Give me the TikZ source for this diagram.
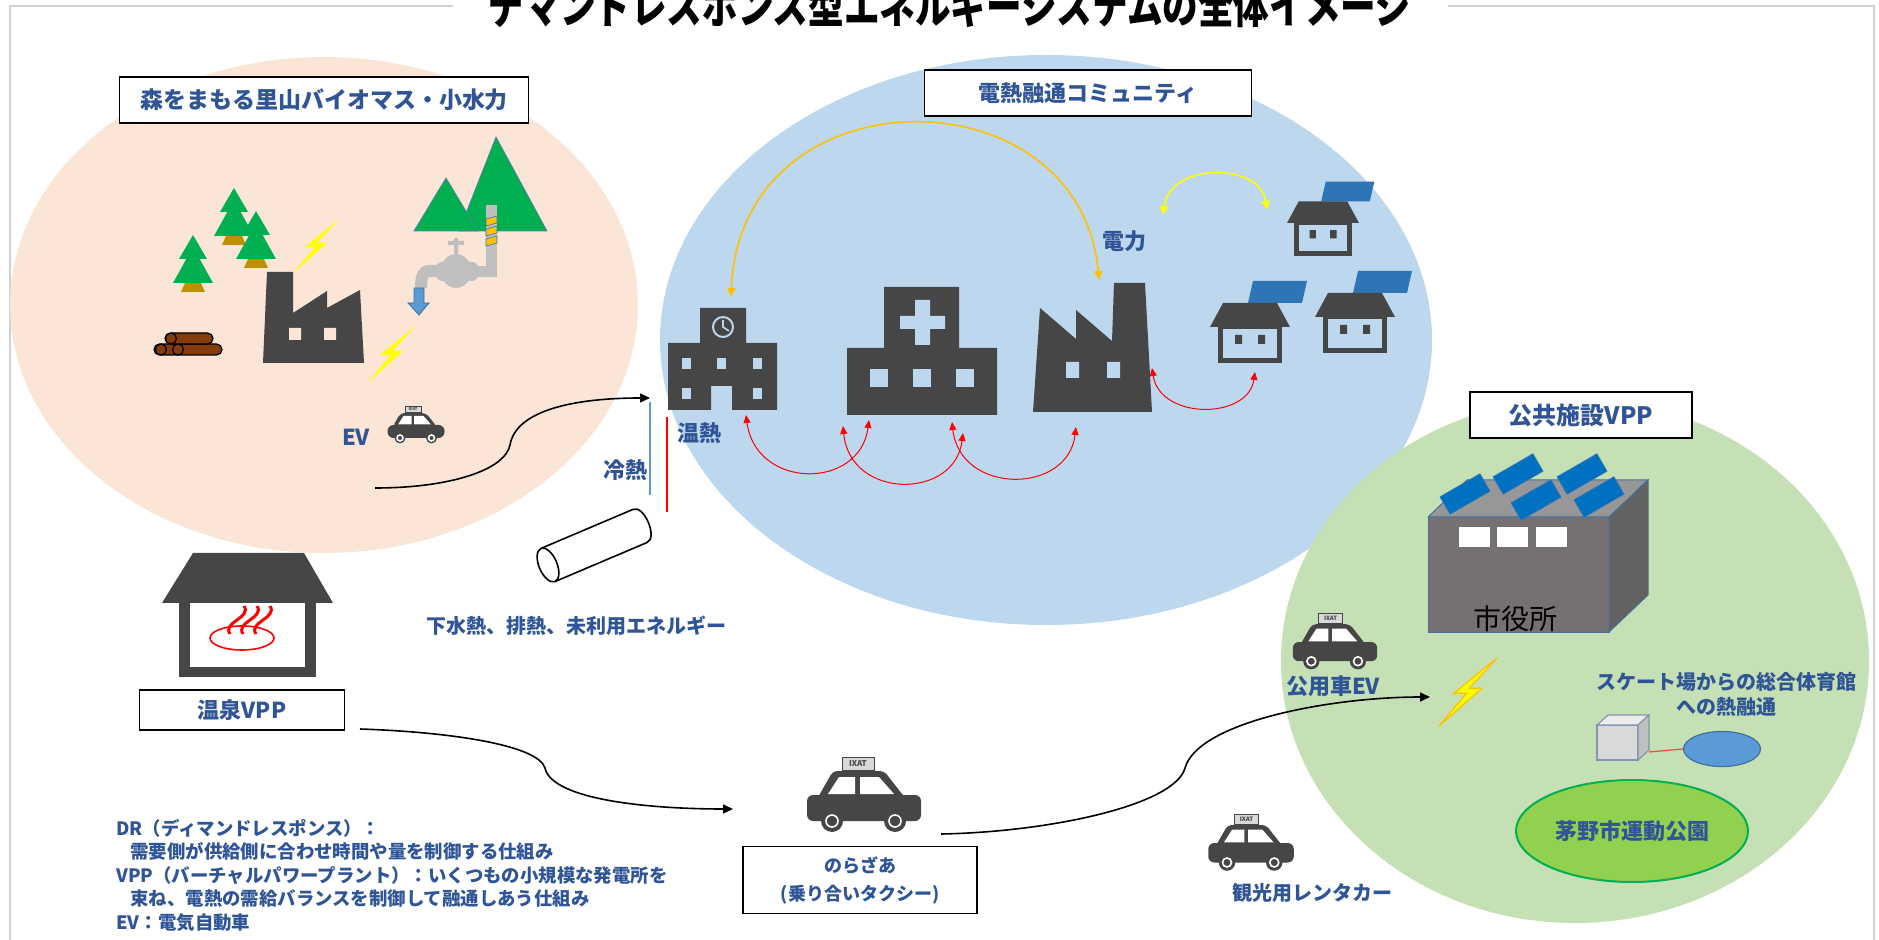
\documentclass[tikz,border=0pt]{standalone}
\usepackage{fontspec}
\setmainfont{Noto Sans CJK JP}
\usetikzlibrary{arrows.meta,shapes.geometric}

% colours
\definecolor{txtblue}{HTML}{2F5597}
\definecolor{icongrey}{HTML}{464646}
\definecolor{signgrey}{HTML}{D9D9D9}
\definecolor{forestbg}{HTML}{FBE5D6}
\definecolor{townbg}{HTML}{BDD7EE}
\definecolor{parkbg}{HTML}{C5E0B4}
\definecolor{treegreen}{HTML}{00B050}
\definecolor{trunkbrown}{HTML}{BF9000}
\definecolor{logbrown}{HTML}{843C0C}
\definecolor{mtnedge}{HTML}{5A7FA8}
\definecolor{panelblue}{HTML}{2E75B6}
\definecolor{roofpanel}{HTML}{0070C0}
\definecolor{pipegrey}{HTML}{BFBFBF}
\definecolor{waterblue}{HTML}{5B9BD5}
\definecolor{wateredge}{HTML}{41719C}
\definecolor{powerorange}{HTML}{FFC000}
\definecolor{boltyellow}{HTML}{FFFF00}
\definecolor{framegrey}{HTML}{D0D0D0}
\definecolor{hallfront}{HTML}{767171}
\definecolor{halltop}{HTML}{979797}
\definecolor{hallside}{HTML}{626262}
\definecolor{cubefront}{HTML}{D9D9D9}
\definecolor{cubetop}{HTML}{EDEDED}
\definecolor{cubeside}{HTML}{BFBFBF}
\definecolor{cubeedge}{HTML}{8497B0}
\definecolor{parkgreen}{HTML}{92D050}
\definecolor{linkred}{HTML}{E0503C}

\tikzset{
  lbl/.style={draw=black, fill=white, line width=0.9pt, text=txtblue, inner sep=0pt,
    align=center, font=\bfseries\fontsize{11}{14}\selectfont},
  tag/.style={text=txtblue, inner sep=0pt, font=\bfseries\fontsize{#1}{#1}\selectfont},
  tag/.default=11,
  flow/.style={line width=0.8pt, -{Triangle[length=5pt,width=4.5pt]}},
  heatflow/.style={red, line width=0.5pt, {Triangle[length=4pt,width=3.5pt]}-{Triangle[length=4pt,width=3.5pt]}},
  powerflow/.style={line width=0.8pt, {Triangle[length=4.5pt,width=4pt]}-{Triangle[length=4.5pt,width=4pt]}},
  % icons below are drawn in pixel units, y pointing down
  pine/.pic={
    \fill[trunkbrown] (-8,48) -- (8,48) -- (12,57) -- (-12,57) -- cycle;
    \fill[treegreen] (0,12) -- (-20,48) -- (20,48) -- cycle;
    \fill[treegreen] (0,0) -- (-14,24) -- (14,24) -- cycle;
  },
  bolt/.pic={
    \path[pic actions] (0,0) -- (34,-30) -- (24,-30) -- (46,-54) -- (12,-26) -- (22,-26) -- cycle;
  },
  solarhouse/.pic={
    \fill[panelblue] (-2,-24) -- (52,-24) -- (57,-46) -- (3,-46) -- cycle;
    \fill[icongrey] (-40,0) -- (-27,-24) -- (27,-24) -- (40,0) -- cycle;
    \draw[icongrey, line width=2.5pt] (-29.5,0) rectangle (29.5,33.5);
    \fill[icongrey] (-15,8) rectangle (-8,17) (8,8) rectangle (15,17);
  },
  taxicar/.pic={
    \filldraw[fill=signgrey, draw=icongrey, line width=0.4pt] (-22,-38) rectangle (10,-25);
    \node[transform shape, text=icongrey, inner sep=0pt, font=\bfseries\fontsize{4}{4}\selectfont] at (-6,-31.5) {IXAT};
    \fill[icongrey, rounded corners=2pt] (-47,4) -- (-31,-24) -- (20,-24) -- (42,4) -- cycle;
    \fill[white] (-36,-1) -- (-25,-18) -- (-9,-18) -- (-9,-1) -- cycle;
    \fill[white] (-4,-1) -- (-4,-18) -- (15,-18) -- (30,-1) -- cycle;
    \fill[icongrey, rounded corners=3pt] (-57,0) rectangle (57,26);
    \foreach \wx in {-32,31} {
      \fill[icongrey] (\wx,26) circle[radius=11];
      \draw[white, line width=0.8pt] (\wx,26) circle[radius=6];
    }
  }
}

\begin{document}
\begin{tikzpicture}[x=0.5pt, y=-0.5pt]
  \useasboundingbox (0,0) rectangle (1879,940);

  % frame and heading
  \draw[framegrey, line width=0.9pt] (453,6) -- (10,6) -- (10,950);
  \draw[framegrey, line width=0.9pt] (1448,6) -- (1874,6) -- (1874,950);
  \node[anchor=base, yscale=1.3, inner sep=0pt, font=\bfseries\fontsize{17.8}{18}\selectfont] (heading) at (950,24) {デマンドレスポンス型エネルギーシステムの全体イメージ};

  % the three areas
  \fill[forestbg] (324,305) ellipse[x radius=314, y radius=248];
  \fill[townbg] (1046,340) ellipse[x radius=386, y radius=285];
  \fill[parkbg] (1575,661) ellipse[x radius=294, y radius=262];

  % ---- satoyama: biomass and small hydro
  \node[lbl, font=\bfseries\fontsize{11.5}{14}\selectfont, minimum width=204.5pt, minimum height=23pt] (satoyama) at (324,100) {森をまもる里山バイオマス・小水力};
  \pic at (234,188) {pine};
  \pic at (256,211) {pine};
  \pic at (193,235) {pine};
  % log pile
  \filldraw[fill=logbrown, line width=0.6pt, rounded corners=2.7pt] (154,344) rectangle (222,355);
  \filldraw[fill=logbrown, line width=0.6pt] (161,349.5) circle[radius=5.5] (178,349.5) circle[radius=5.5];
  \filldraw[fill=logbrown, line width=0.6pt, rounded corners=2.7pt] (165,333) rectangle (213,344);
  \filldraw[fill=logbrown, line width=0.6pt] (171,338.5) circle[radius=5.5];
  % biomass plant
  \fill[icongrey] (263,363) -- (267,272) -- (293,272) -- (293,313) -- (327,291) -- (327,308) -- (360,290) -- (364,363) -- cycle;
  \fill[forestbg] (289,328) rectangle (301,340) (324,328) rectangle (336,340);
  \pic[fill=boltyellow] at (293,273) {bolt};
  \pic[fill=boltyellow, scale=1.07] at (367,383) {bolt};
  % mountains and water pipe
  \filldraw[fill=treegreen, draw=mtnedge, line width=0.4pt] (459,231) -- (496,137) -- (547,231) -- cycle;
  \filldraw[fill=treegreen, draw=mtnedge, line width=0.4pt] (414,231) -- (446,178) -- (478,231) -- cycle;
  \fill[pipegrey] (486,205) rectangle (497,277);
  \fill[pipegrey] (462,266) rectangle (497,277);
  \foreach \sy in {216,226,236}
    \filldraw[fill=powerorange, draw=panelblue, line width=0.3pt] (486,\sy+3) -- (497,\sy) -- (497,\sy+7) -- (486,\sy+10) -- cycle;
  \fill[pipegrey, rounded corners=3pt] (436,262) rectangle (478,281);
  \fill[pipegrey] (456,271) ellipse[x radius=15, y radius=17];
  \fill[pipegrey] (454,238) rectangle (458,256) (448,241) rectangle (464,245);
  \draw[pipegrey, line width=6pt] (440,271) -- (430,271) .. controls (423,271) and (421,276) .. (421,288);
  \filldraw[fill=waterblue, draw=wateredge, line width=0.4pt] (414,288) -- (424,288) -- (424,303) -- (429,303) -- (419,315) -- (408,303) -- (414,303) -- cycle;
  % EV
  \node[tag] (ev) at (356,437) {EV};
  \pic[scale=0.5] at (416,425) {taxicar};
  \coordinate (ev-out) at (375,488);
  \coordinate (town-in) at (650,398);
  \draw[flow] (ev-out) .. controls (450,488) and (505,470) .. (510,445) .. controls (516,410) and (575,398) .. (town-in);

  % ---- cold and warm heat, unused energy
  \draw[waterblue, line width=1pt] (650,402) -- (650,495);
  \draw[red, line width=1pt] (667,417) -- (667,512);
  \node[tag] (coldheat) at (625,470) {冷熱};
  \node[tag] (warmheat) at (699,433) {温熱};
  \begin{scope}[shift={(548,565)}, rotate=23]
    \filldraw[fill=white, line width=0.8pt] (0,-18) -- (100,-18) .. controls (112,-18) and (112,18) .. (100,18) -- (0,18);
    \filldraw[fill=white, line width=0.8pt] (0,0) ellipse[x radius=9, y radius=18];
  \end{scope}
  \node[tag=10] (unused) at (576,626) {下水熱、排熱、未利用エネルギー};

  % ---- onsen VPP
  \fill[icongrey] (162,603) -- (193,553) -- (304,553) -- (333,603) -- cycle;
  \fill[icongrey] (179,601) rectangle (316,677);
  \fill[white] (190,603) rectangle (305,667);
  \draw[red, line width=0.8pt] (242,638) ellipse[x radius=32, y radius=12];
  \foreach \sx in {0,13,26}
    \draw[red, line width=1.5pt] (230+\sx,634) .. controls (222+\sx,622) and (252+\sx,618) .. (244+\sx,606);
  \node[lbl, minimum width=102.5pt, minimum height=20pt] (onsenvpp) at (242,710) {温泉VPP};
  \coordinate (onsen-out) at (360,729);
  \coordinate (noraza-in) at (733,809);
  \draw[flow] (onsen-out) .. controls (450,732) and (538,745) .. (545,768) .. controls (552,800) and (650,809) .. (noraza-in);

  % glossary
  \node[anchor=north west, align=left, text=txtblue, inner sep=0pt, font=\bfseries\fontsize{9.2}{11.7}\selectfont] (glossary) at (116,819)
    {DR（ディマンドレスポンス）：\\
     \hspace*{7pt}需要側が供給側に合わせ時間や量を制御する仕組み\\
     VPP（バーチャルパワープラント）：いくつもの小規模な発電所を\\
     \hspace*{7pt}束ね、電熱の需給バランスを制御して融通しあう仕組み\\
     EV：電気自動車};

  % ---- shared taxi
  \pic at (864,795) {taxicar};
  \node[lbl, font=\bfseries\fontsize{9}{14}\selectfont, minimum width=117pt, minimum height=33.5pt] (noraza) at (860,880) {のらざあ\\(乗り合いタクシー)};
  \coordinate (noraza-out) at (941,834);
  \coordinate (park-in) at (1430,697);
  \draw[flow] (noraza-out) .. controls (1050,832) and (1175,805) .. (1185,768) .. controls (1198,722) and (1330,697) .. (park-in);

  % ---- heat and power community
  \node[lbl, minimum width=163.5pt, minimum height=23pt] (community) at (1088,93) {電熱融通コミュニティ};
  % school
  \fill[icongrey] (668,410) -- (668,343) -- (700,343) -- (700,308) -- (746,308) -- (746,343) -- (777,343) -- (777,410) -- (732,410) -- (732,386) -- (711,386) -- (711,410) -- cycle;
  \draw[townbg, line width=1pt] (723,327) circle[radius=10];
  \draw[townbg, line width=0.8pt] (723,320) -- (723,327) -- (729,331);
  \foreach \wx in {682,717,753} \fill[townbg] (\wx,358) rectangle +(9,11);
  \foreach \wx in {682,753} \fill[townbg] (\wx,388) rectangle +(9,11);
  % hospital
  \fill[icongrey] (847,415) -- (847,348) -- (884,348) -- (884,287) -- (959,287) -- (959,348) -- (997,348) -- (997,415) -- cycle;
  \fill[townbg] (915,300) rectangle (930,345) (900,316) rectangle (945,329);
  \foreach \wx in {870,913,956} \fill[townbg] (\wx,369) rectangle +(18,18);
  % factory
  \fill[icongrey] (1033,412) -- (1040,308) -- (1076,339) -- (1076,310) -- (1112,341) -- (1114,283) -- (1145,283) -- (1152,412) -- cycle;
  \fill[townbg] (1066,362) rectangle (1079,378) (1107,362) rectangle (1120,378);
  % houses with solar panels
  \pic[scale=0.9] at (1323,223) {solarhouse};
  \pic at (1250,327) {solarhouse};
  \pic at (1355,317) {solarhouse};
  % power exchange
  \coordinate (school-top) at (731,297);
  \coordinate (factory-top) at (1099,280);
  \draw[powerflow, powerorange] (school-top) .. controls (740,69) and (1080,69) .. (factory-top);
  \coordinate (house-l) at (1163,215);
  \coordinate (house-r) at (1267,210);
  \draw[powerflow, boltyellow] (house-l) .. controls (1170,162) and (1260,162) .. (house-r);
  \node[tag] (power) at (1124,241) {電力};
  % heat exchange
  \coordinate (school-foot) at (746,415);
  \coordinate (hosp-foot-a) at (869,420);
  \coordinate (hosp-foot-b) at (843,426);
  \coordinate (hosp-foot-c) at (963,433);
  \coordinate (hosp-foot-d) at (952,422);
  \coordinate (factory-foot) at (1076,427);
  \coordinate (factory-side) at (1152,368);
  \coordinate (house-foot) at (1255,372);
  \draw[heatflow] (school-foot) .. controls (756,490) and (860,490) .. (hosp-foot-a);
  \draw[heatflow] (hosp-foot-b) .. controls (850,500) and (955,500) .. (hosp-foot-c);
  \draw[heatflow] (hosp-foot-d) .. controls (960,495) and (1068,495) .. (factory-foot);
  \draw[heatflow] (factory-side) .. controls (1160,420) and (1248,420) .. (house-foot);

  % ---- public facility VPP
  \node[lbl, font=\bfseries\fontsize{12}{14}\selectfont, minimum width=111pt, minimum height=23pt] (publicvpp) at (1581,415) {公共施設VPP};
  % city hall block
  \filldraw[fill=hallfront, draw=wateredge, line width=0.5pt] (1428,517) rectangle (1609,632);
  \filldraw[fill=halltop, draw=wateredge, line width=0.5pt] (1428,517) -- (1467,480) -- (1648,480) -- (1609,517) -- cycle;
  \filldraw[fill=hallside, draw=wateredge, line width=0.5pt] (1609,517) -- (1648,480) -- (1648,595) -- (1609,632) -- cycle;
  \foreach \px/\py in {1518/474, 1582/474, 1465/494, 1536/500, 1599/497}
    \filldraw[fill=roofpanel, draw=panelblue, line width=0.4pt, rotate around={30:(\px,\py)}] (\px-23,\py-10) rectangle (\px+23,\py+10);
  \foreach \wx in {1459,1497,1536} \fill[white] (\wx,527) rectangle +(31,20);
  \node[font=\fontsize{14}{14}\selectfont, inner sep=0pt] (cityhall) at (1515,619) {市役所};
  % public car
  \pic[scale=0.74] at (1335,642) {taxicar};
  \node[tag] (publiccar) at (1333,686) {公用車EV};
  \pic[fill=boltyellow, draw=powerorange, line width=0.6pt, scale=1.26] at (1439,726) {bolt};
  % rink to gym
  \node[tag=10, align=center, font=\bfseries\fontsize{10}{12.5}\selectfont] (rinktext) at (1726,694) {スケート場からの総合体育館\\への熱融通};
  \filldraw[fill=cubefront, draw=cubeedge, line width=0.6pt] (1597,725) rectangle (1638,760);
  \filldraw[fill=cubetop, draw=cubeedge, line width=0.6pt] (1597,725) -- (1608,715) -- (1649,715) -- (1638,725) -- cycle;
  \filldraw[fill=cubeside, draw=cubeedge, line width=0.6pt] (1638,725) -- (1649,715) -- (1649,750) -- (1638,760) -- cycle;
  \coordinate (rink) at (1649,752);
  \node[ellipse, fill=waterblue, draw=wateredge, line width=0.6pt, minimum width=38.5pt, minimum height=17.5pt, inner sep=0pt] (gym) at (1722,749) {};
  \draw[linkred, line width=0.6pt] (rink) -- (gym.west);
  % sports park
  \node[ellipse, fill=parkgreen, draw=treegreen, line width=1pt, minimum width=116pt, minimum height=51pt, inner sep=0pt, text=txtblue, font=\bfseries\fontsize{11}{11}\selectfont] (park) at (1632,831) {茅野市運動公園};

  % ---- rental car
  \pic[scale=0.75] at (1251,843) {taxicar};
  \node[tag=10] (rentacar) at (1312,893) {観光用レンタカー};
\end{tikzpicture}
\end{document}
